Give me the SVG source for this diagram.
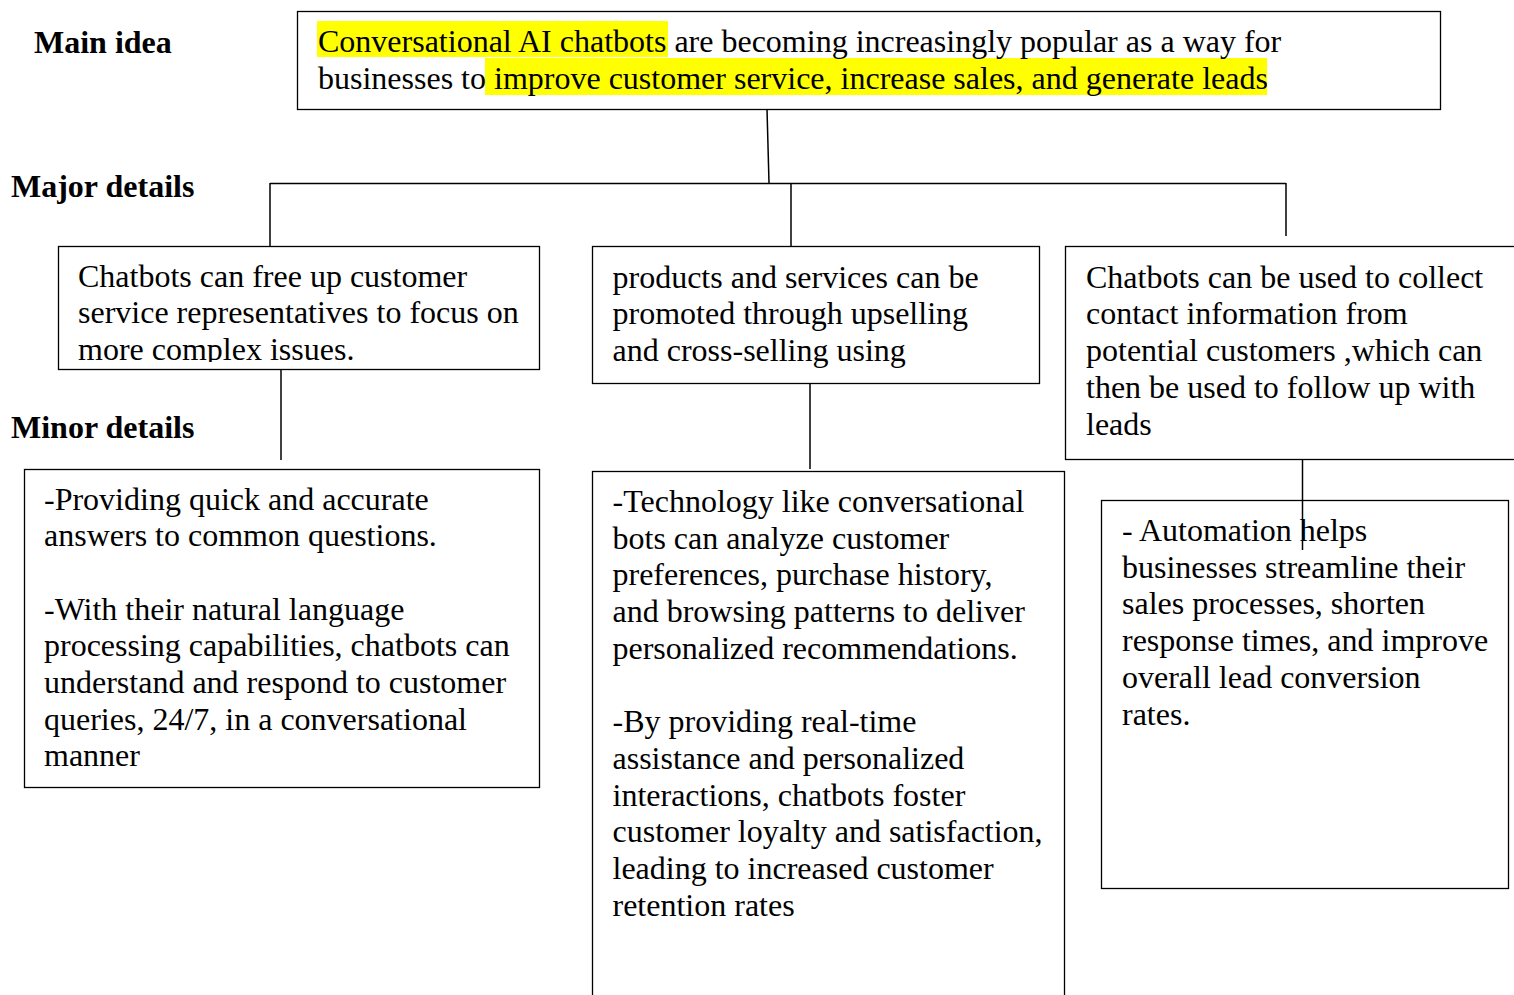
<svg xmlns="http://www.w3.org/2000/svg" width="1514" height="995" viewBox="0 0 1514 995">
<style>
  .box{fill:#fff;stroke:#000;stroke-width:1.3}
  .ln{stroke:#000;stroke-width:1.5;fill:none}
  .t{font-family:"Liberation Serif","Times New Roman",serif;font-size:32px;fill:#000}
  .h{font-family:"Liberation Serif","Times New Roman",serif;font-size:32px;font-weight:bold;fill:#000}
  .hl{fill:#ffff00}
</style>
<defs>
  <clipPath id="clipL"><rect x="58" y="246" width="482" height="116"/></clipPath>
</defs>
<rect width="1514" height="995" fill="#fff"/>
<g id="labels">
  <text class="h" x="34" y="53">Main idea</text>
  <text class="h" x="11" y="197">Major details</text>
  <text class="h" x="11" y="438">Minor details</text>
</g>
<g id="connectors">
  <line class="ln" x1="767" y1="109" x2="769" y2="183"/>
  <line class="ln" x1="270" y1="183.5" x2="1286" y2="183.5"/>
  <line class="ln" x1="270" y1="183" x2="270" y2="246"/>
  <line class="ln" x1="791" y1="183" x2="791" y2="246"/>
  <line class="ln" x1="1286" y1="183" x2="1286" y2="236"/>
  <line class="ln" x1="281" y1="370" x2="281" y2="460"/>
  <line class="ln" x1="810" y1="384" x2="810" y2="469"/>
</g>
<g id="main">
  <rect class="box" x="297.5" y="11.5" width="1143" height="98"/>
  <rect class="hl" x="317" y="21" width="351" height="36"/>
  <rect class="hl" x="485" y="58" width="782" height="37"/>
  <text class="t" x="318" y="51.5">Conversational AI chatbots are becoming increasingly popular as a way for</text>
  <text class="t" x="318" y="88.5">businesses to improve customer service, increase sales, and generate leads</text>
</g>
<g id="major1">
  <rect class="box" x="58.5" y="246.5" width="481" height="123"/>
  <g clip-path="url(#clipL)">
    <text class="t" x="78" y="286.5">Chatbots can free up customer</text>
    <text class="t" x="78" y="323.2">service representatives to focus on</text>
    <text class="t" x="78" y="359.9">more complex issues.</text>
  </g>
</g>
<g id="major2">
  <rect class="box" x="592.5" y="246.5" width="447" height="137"/>
  <text class="t" x="612.5" y="287.5">products and services can be</text>
  <text class="t" x="612.5" y="324.2">promoted through upselling</text>
  <text class="t" x="612.5" y="360.9">and cross-selling using</text>
</g>
<g id="major3">
  <rect class="box" x="1065.5" y="246.5" width="460" height="213"/>
  <text class="t" x="1086" y="287.7">Chatbots can be used to collect</text>
  <text class="t" x="1086" y="324.4">contact information from</text>
  <text class="t" x="1086" y="361.1">potential customers ,which can</text>
  <text class="t" x="1086" y="397.8">then be used to follow up with</text>
  <text class="t" x="1086" y="434.5">leads</text>
</g>
<g id="minor1">
  <rect class="box" x="24.5" y="469.5" width="515" height="318"/>
  <text class="t" x="44" y="509.5">-Providing quick and accurate</text>
  <text class="t" x="44" y="546.2">answers to common questions.</text>
  <text class="t" x="44" y="619.6">-With their natural language</text>
  <text class="t" x="44" y="656.3">processing capabilities, chatbots can</text>
  <text class="t" x="44" y="693">understand and respond to customer</text>
  <text class="t" x="44" y="729.7">queries, 24/7, in a conversational</text>
  <text class="t" x="44" y="766.4">manner</text>
</g>
<g id="minor2">
  <rect class="box" x="592.5" y="471.5" width="472" height="540"/>
  <text class="t" x="612.5" y="512">-Technology like conversational</text>
  <text class="t" x="612.5" y="548.7">bots can analyze customer</text>
  <text class="t" x="612.5" y="585.4">preferences, purchase history,</text>
  <text class="t" x="612.5" y="622.1">and browsing patterns to deliver</text>
  <text class="t" x="612.5" y="658.8">personalized recommendations.</text>
  <text class="t" x="612.5" y="732.2">-By providing real-time</text>
  <text class="t" x="612.5" y="768.9">assistance and personalized</text>
  <text class="t" x="612.5" y="805.6">interactions, chatbots foster</text>
  <text class="t" x="612.5" y="842.3">customer loyalty and satisfaction,</text>
  <text class="t" x="612.5" y="879">leading to increased customer</text>
  <text class="t" x="612.5" y="915.7">retention rates</text>
</g>
<g id="minor3">
  <rect class="box" x="1101.5" y="500.5" width="407" height="388"/>
  <text class="t" x="1122" y="541">- Automation helps</text>
  <text class="t" x="1122" y="577.7">businesses streamline their</text>
  <text class="t" x="1122" y="614.4">sales processes, shorten</text>
  <text class="t" x="1122" y="651.1">response times, and improve</text>
  <text class="t" x="1122" y="687.8">overall lead conversion</text>
  <text class="t" x="1122" y="724.5">rates.</text>
</g>
<g id="connector-overlay">
  <line class="ln" x1="1302.5" y1="460" x2="1302.5" y2="550"/>
</g>
</svg>
